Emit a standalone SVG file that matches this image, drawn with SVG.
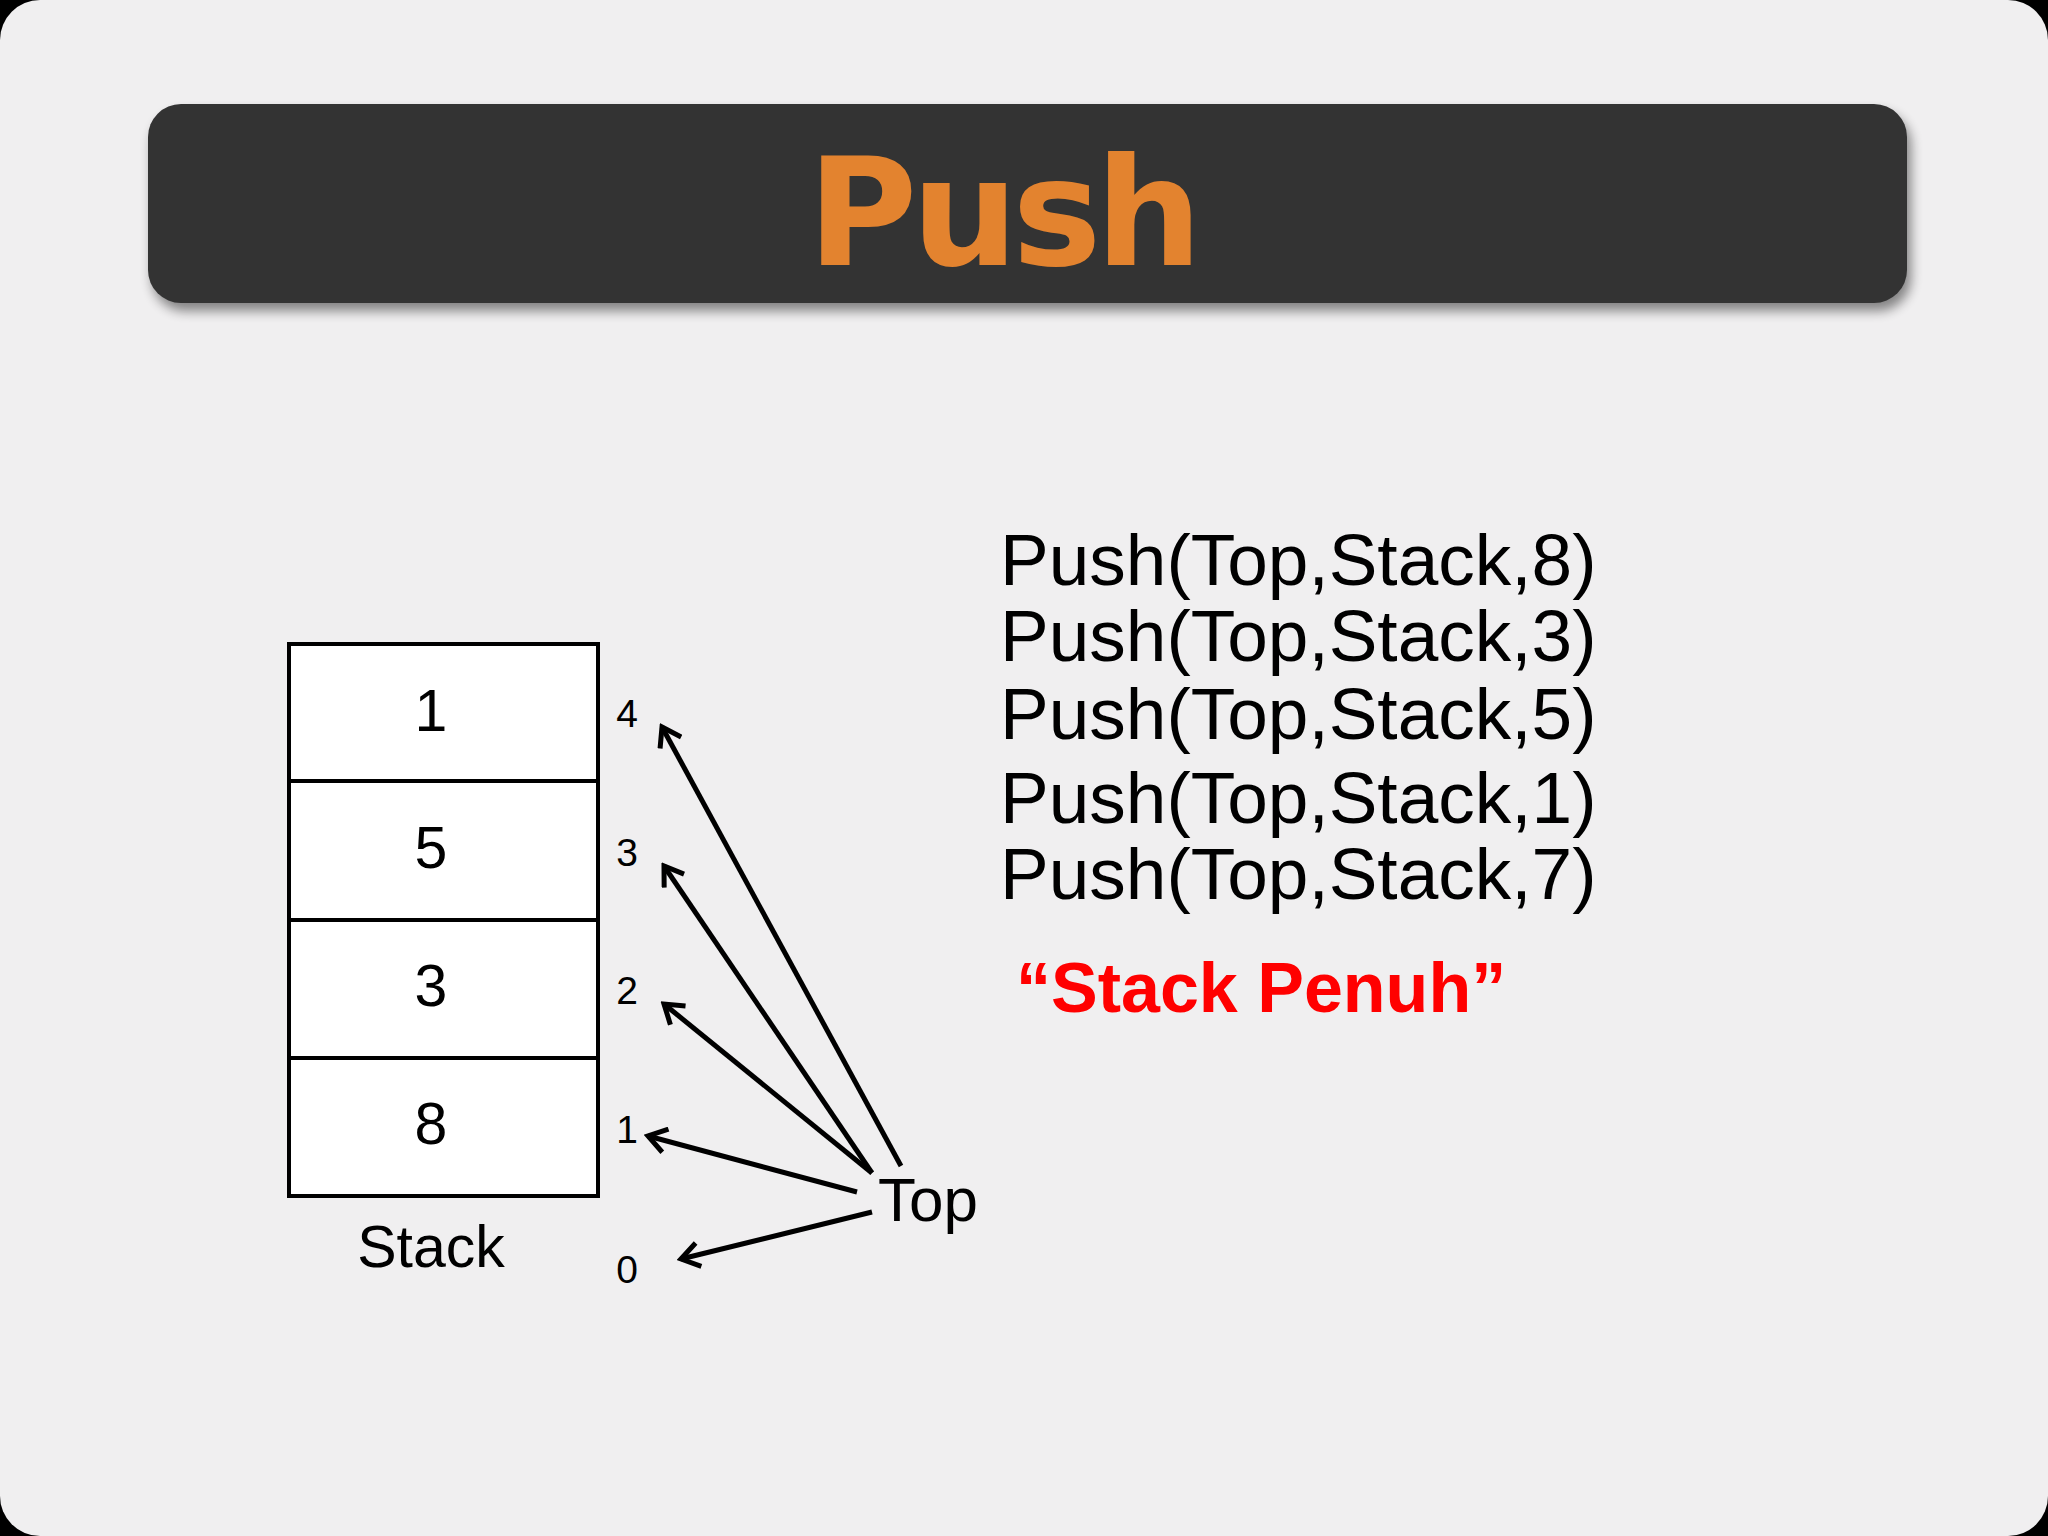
<svg xmlns="http://www.w3.org/2000/svg" width="2048" height="1536" viewBox="0 0 2048 1536">
<style>
.t{font-family:"Liberation Sans",Arial,sans-serif;fill:#000}
.a{stroke:#000;stroke-width:5;fill:none;marker-end:url(#ah)}
.cell{fill:#fff;stroke:#000;stroke-width:4}
</style>
<defs>
<marker id="ah" viewBox="-2 -2 26 28" refX="20" refY="12" markerWidth="26" markerHeight="28" orient="auto" markerUnits="userSpaceOnUse">
<path d="M2,0 L20,12 L2,24" fill="none" stroke="#000" stroke-width="5"/>
</marker>
<filter id="sh" x="-5%" y="-20%" width="110%" height="150%"><feGaussianBlur stdDeviation="6"/></filter>
</defs>
<rect width="2048" height="1536" fill="#000"/>
<rect width="2048" height="1536" rx="40" fill="#f0eff0"/>
<g id="title">
<rect x="152" y="112" width="1759" height="199" rx="33" fill="#000" opacity="0.45" filter="url(#sh)"/>
<rect x="148" y="104" width="1759" height="199" rx="33" fill="#333333"/>
<text x="1002" y="265" text-anchor="middle" font-family="'DejaVu Sans',Verdana,sans-serif" font-weight="bold" font-size="150" letter-spacing="-6" fill="#e3832f">Push</text>
</g>
<g id="stack">
<rect class="cell" x="289" y="644" width="309" height="137"/>
<rect class="cell" x="289" y="781" width="309" height="139"/>
<rect class="cell" x="289" y="920" width="309" height="138"/>
<rect class="cell" x="289" y="1058" width="309" height="138"/>
<text class="t" x="431" y="731" font-size="59" text-anchor="middle">1</text>
<text class="t" x="431" y="868" font-size="59" text-anchor="middle">5</text>
<text class="t" x="431" y="1006" font-size="59" text-anchor="middle">3</text>
<text class="t" x="431" y="1144" font-size="59" text-anchor="middle">8</text>
<text class="t" x="431" y="1267" font-size="59" text-anchor="middle">Stack</text>
</g>
<g id="indices" class="t" font-size="39">
<text class="t" x="627" y="727" text-anchor="middle">4</text>
<text class="t" x="627" y="866" text-anchor="middle">3</text>
<text class="t" x="627" y="1004" text-anchor="middle">2</text>
<text class="t" x="627" y="1143" text-anchor="middle">1</text>
<text class="t" x="627" y="1283" text-anchor="middle">0</text>
</g>
<g id="top"><text class="t" x="878" y="1221" font-size="62">Top</text></g>
<g id="connectors">
<line class="a" x1="901" y1="1166" x2="662" y2="727"/>
<line class="a" x1="872" y1="1173" x2="664" y2="866"/>
<line class="a" x1="872" y1="1173" x2="664" y2="1004"/>
<line class="a" x1="857" y1="1192" x2="648" y2="1136"/>
<line class="a" x1="872" y1="1212" x2="681" y2="1259"/>
</g>
<g id="code" class="t" font-size="73">
<text class="t" x="1000" y="585">Push(Top,Stack,8)</text>
<text class="t" x="1000" y="661">Push(Top,Stack,3)</text>
<text class="t" x="1000" y="739">Push(Top,Stack,5)</text>
<text class="t" x="1000" y="823">Push(Top,Stack,1)</text>
<text class="t" x="1000" y="899">Push(Top,Stack,7)</text>
</g>
<g id="full"><text x="1016" y="1012" font-family="'Liberation Sans',Arial,sans-serif" font-weight="bold" font-size="70" fill="#ff0000">“Stack Penuh”</text></g>
</svg>
